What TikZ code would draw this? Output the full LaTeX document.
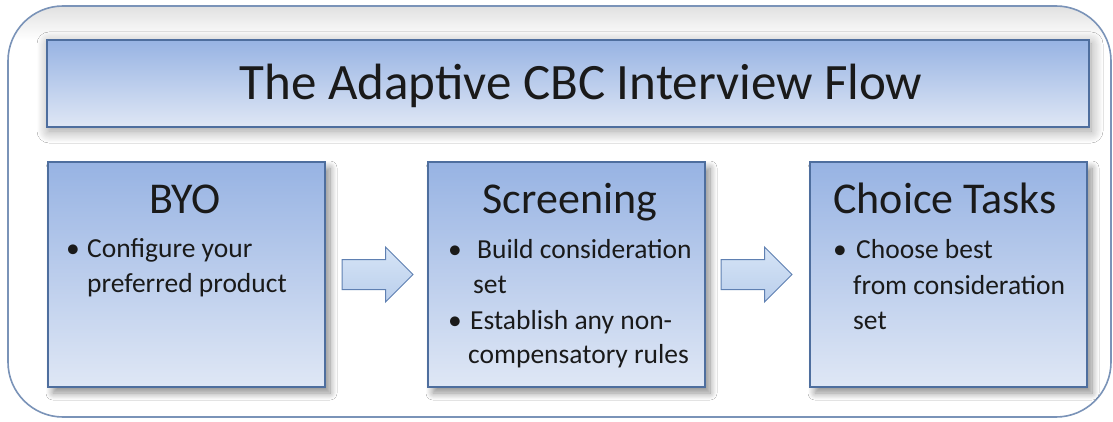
\documentclass[tikz,border=0pt]{standalone}
\usepackage{fontspec}
\setmainfont{Carlito}
\usetikzlibrary{shadows.blur,shapes.arrows,calc}
\definecolor{boxtop}{HTML}{97B3E3}
\definecolor{boxbot}{HTML}{DFE7F5}
\definecolor{boxline}{HTML}{4E6E9E}
\definecolor{arrtop}{HTML}{D6E4F6}
\definecolor{arrbot}{HTML}{BACFEC}
\definecolor{arrline}{HTML}{5F80B2}
\definecolor{frameline}{HTML}{7A93B8}
\definecolor{txt}{HTML}{1A1A1A}
\tikzset{
  panel/.style={draw=boxline, line width=1.3pt, top color=boxtop, bottom color=boxbot,
    minimum width=277pt, minimum height=225pt, inner sep=0pt, outer sep=0pt, anchor=north west,
    blur shadow={shadow xshift=5pt, shadow yshift=-6pt, shadow blur steps=10, shadow blur radius=7pt, shadow opacity=45}},
  titlebox/.style={draw=boxline, line width=1.3pt, top color=boxtop, bottom color=boxbot,
    minimum width=1042pt, minimum height=87pt, inner sep=0pt, outer sep=0pt, anchor=north west,
    blur shadow={shadow xshift=2pt, shadow yshift=-4pt, shadow blur steps=12, shadow blur radius=12pt, shadow opacity=40}},
  blockarrow/.style={single arrow, draw=arrline, line width=1pt, top color=arrtop, bottom color=arrbot,
    minimum height=71pt, single arrow head extend=12.5pt, inner xsep=0pt, inner ysep=14.5pt, outer sep=0pt, anchor=tail},
  heading/.style={font=\fontsize{44}{50}\selectfont, text=txt, anchor=base, inner sep=0pt},
  bigtitle/.style={font=\fontsize{51}{58}\selectfont, text=txt, anchor=base, inner sep=0pt},
  line/.style={font=\fontsize{27.5}{33}\selectfont, text=txt, anchor=base west, inner sep=0pt},
  dot/.style={font=\fontsize{27.5}{33}\selectfont, text=txt, anchor=base, inner sep=0pt},
}
\begin{document}
\begin{tikzpicture}[x=1pt,y=-1pt]
\useasboundingbox (0,0) rectangle (1113,422);
\fill[white] (0,0) rectangle (1113,422);
% outer frame
\begin{scope}
  \clip[rounded corners=55pt] (8,6) rectangle (1111,417);
  \shade[top color=black!12, bottom color=white] (0,6) rectangle (1113,40);
\end{scope}
\draw[draw=frameline, line width=1.6pt, rounded corners=55pt] (8,6) rectangle (1111,417);
% title
\node[titlebox] (title) at (47,40) {};
\node[bigtitle] (titletext) at (581,100) {The Adaptive CBC Interview Flow};
% panels
\node[panel] (byo) at (48,162) {};
\node[panel] (scr) at (428,162) {};
\node[panel] (cho) at (810,162) {};
% block arrows
\node[blockarrow] (a1) at ($(byo.east)+(17,0)$) {};
\node[blockarrow] (a2) at ($(scr.east)+(16,0)$) {};
% headings
\node[heading] (byoh) at (185,214) {BYO};
\node[heading] (scrh) at (570,213) {Screening};
\node[heading] (choh) at (945,213) {Choice Tasks};
% BYO bullets
\node[dot] (d1) at (73,257) {•};
\node[line] (l1) at (87,257) {Configure your};
\node[line] (l2) at (87,292) {preferred product};
% Screening bullets
\node[dot] (d2) at (455,258) {•};
\node[line] (l3) at (477,258) {Build consideration};
\node[line] (l4) at (473,293) {set};
\node[dot] (d3) at (455,329) {•};
\node[line] (l5) at (470,329) {Establish any non-};
\node[line] (l6) at (468,363) {compensatory rules};
% Choice bullets
\node[dot] (d4) at (840,258) {•};
\node[line] (l7) at (856,258) {Choose best};
\node[line] (l8) at (853,294) {from consideration};
\node[line] (l9) at (853,329) {set};
\end{tikzpicture}
\end{document}
